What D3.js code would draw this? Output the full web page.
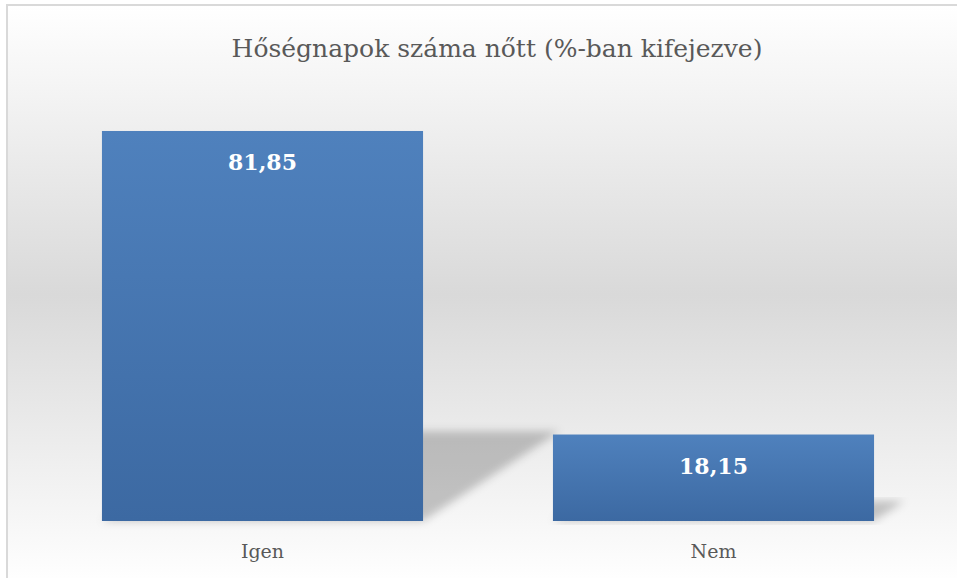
<!DOCTYPE html>
<html>
<head>
<meta charset="utf-8">
<title>Hőségnapok</title>
<style>
    body { margin: 0; background: #ffffff; }
    svg { display: block; }
</style>
</head>
<body>
<script src="https://d3js.org/d3.v7.min.js"></script>
<script>
    // Chart data
    const categories = ["Igen", "Nem"];
    const values = [81.85, 18.15];
    const valueLabels = ["81,85", "18,15"];
    const chartTitle = "Hőségnapok száma nőtt (%-ban kifejezve)";

    const width = 957;
    const height = 578;
    const serif = "'DejaVu Serif', 'Liberation Serif', serif";

    const svg = d3.select("body")
        .append("svg")
        .attr("width", width)
        .attr("height", height);

    const defs = svg.append("defs");

    // background: white -> grey -> white
    const bg = defs.append("linearGradient")
        .attr("id", "bg").attr("x1", 0).attr("y1", 0).attr("x2", 0).attr("y2", 1);
    bg.append("stop").attr("offset", "0%").attr("stop-color", "#ffffff");
    bg.append("stop").attr("offset", "50%").attr("stop-color", "#d9d9d9");
    bg.append("stop").attr("offset", "100%").attr("stop-color", "#ffffff");

    const barGrad = defs.append("linearGradient")
        .attr("id", "bar").attr("x1", 0).attr("y1", 0).attr("x2", 0).attr("y2", 1);
    barGrad.append("stop").attr("offset", "0%").attr("stop-color", "#4f81bd");
    barGrad.append("stop").attr("offset", "100%").attr("stop-color", "#3c69a2");

    defs.append("filter")
        .attr("id", "blur").attr("x", "-20%").attr("y", "-20%")
        .attr("width", "140%").attr("height", "140%")
        .append("feGaussianBlur").attr("stdDeviation", 4);

    // frame (bottom and right edges fall outside the picture)
    svg.append("rect")
        .attr("x", 7).attr("y", 5)
        .attr("width", 990).attr("height", 580)
        .attr("fill", "url(#bg)")
        .attr("stroke", "#d9d9d9")
        .attr("stroke-width", 2);

    // title
    svg.append("text")
        .attr("x", 497).attr("y", 57)
        .attr("text-anchor", "middle")
        .attr("font-family", serif)
        .attr("font-size", 25)
        .attr("fill", "#595959")
        .text(chartTitle);

    // scales
    const x = d3.scaleBand()
        .domain(categories)
        .range([37, 939])
        .paddingInner(0.288)
        .paddingOuter(0.144);

    const y = d3.scaleLinear()
        .domain([0, 100])
        .range([521, 44.5]);

    const data = categories.map((c, i) => ({ cat: c, value: values[i], label: valueLabels[i] }));

    // perspective shadows
    svg.append("g")
        .selectAll("path")
        .data(data)
        .join("path")
        .attr("d", d => {
            const x0 = x(d.cat), x1 = x0 + x.bandwidth();
            const h = y(0) - y(d.value);
            const dx = h * 0.35, dy = h * 0.23;
            return `M${x0},${y(0)} L${x1},${y(0)} L${x1 + dx},${y(0) - dy} L${x0 + dx},${y(0) - dy} Z`;
        })
        .attr("fill", "#000")
        .attr("fill-opacity", 0.21)
        .attr("filter", "url(#blur)");

    // bars
    svg.append("g")
        .selectAll("rect")
        .data(data)
        .join("rect")
        .attr("x", d => x(d.cat))
        .attr("y", d => y(d.value))
        .attr("width", x.bandwidth())
        .attr("height", d => y(0) - y(d.value))
        .attr("fill", "url(#bar)");

    // value labels
    svg.append("g")
        .selectAll("text")
        .data(data)
        .join("text")
        .attr("x", d => x(d.cat) + x.bandwidth() / 2)
        .attr("y", d => y(d.value) + 39)
        .attr("text-anchor", "middle")
        .attr("font-family", serif)
        .attr("font-weight", "bold")
        .attr("font-size", 22)
        .attr("fill", "#ffffff")
        .text(d => d.label);

    // category axis
    const xAxis = d3.axisBottom(x).tickSize(0).tickPadding(0);
    const gx = svg.append("g")
        .attr("transform", "translate(0," + y(0) + ")")
        .call(xAxis);
    gx.select(".domain").remove();
    gx.selectAll("text")
        .attr("dy", 0)
        .attr("y", 37)
        .attr("font-family", serif)
        .attr("font-size", 19)
        .attr("fill", "#595959");
</script>
</body>
</html>
